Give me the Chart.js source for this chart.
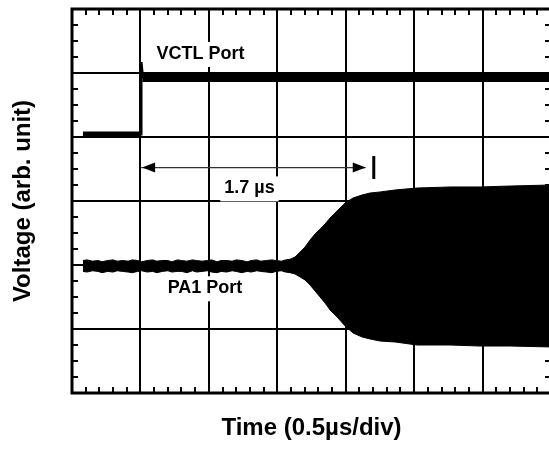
<!DOCTYPE html>
<html>
<head>
<meta charset="utf-8">
<script src="https://cdn.jsdelivr.net/npm/chart.js@4/dist/chart.umd.min.js"></script>
<style>
  html, body { margin: 0; padding: 0; background: #fff; overflow: hidden; }
</style>
</head>
<body>
<canvas id="scope" width="552" height="449"></canvas>
<script>
// time in microseconds (0.5 us / div), voltage in screen divisions (centre = 0)
const pa1Time = [0.08, 0.11, 0.15, 0.19, 0.22, 0.26, 0.30, 0.33, 0.37, 0.41, 0.44, 0.48, 0.51, 0.55,
  0.59, 0.62, 0.66, 0.70, 0.73, 0.77, 0.80, 0.84, 0.88, 0.91, 0.95, 0.99, 1.02, 1.06, 1.09, 1.13,
  1.17, 1.20, 1.24, 1.28, 1.31, 1.35, 1.38, 1.42, 1.46, 1.49, 1.53, 1.56, 1.594, 1.630, 1.667, 1.703,
  1.740, 1.776, 1.813, 1.849, 1.886, 1.937, 1.996, 2.054, 2.120, 2.178, 2.251, 2.361, 2.522, 2.763,
  2.982, 3.202, 3.501];
const pa1Upper = [-0.93, -0.92, -0.94, -0.93, -0.95, -0.93, -0.92, -0.94, -0.93, -0.94, -0.92, -0.93,
  -0.95, -0.93, -0.92, -0.94, -0.93, -0.93, -0.95, -0.92, -0.93, -0.94, -0.92, -0.93, -0.94, -0.93,
  -0.92, -0.95, -0.93, -0.93, -0.94, -0.92, -0.93, -0.95, -0.93, -0.92, -0.94, -0.93, -0.92, -0.93,
  -0.94, -0.92, -0.91, -0.875, -0.797, -0.719, -0.609, -0.516, -0.438, -0.359, -0.266, -0.156,
  -0.031, 0.047, 0.094, 0.125, 0.141, 0.172, 0.203, 0.219, 0.219, 0.234, 0.25];
const pa1Lower = [-1.10, -1.11, -1.09, -1.10, -1.12, -1.10, -1.11, -1.09, -1.10, -1.11, -1.12, -1.10,
  -1.09, -1.11, -1.10, -1.12, -1.10, -1.09, -1.11, -1.10, -1.10, -1.12, -1.09, -1.11, -1.10, -1.09,
  -1.11, -1.12, -1.10, -1.11, -1.09, -1.10, -1.12, -1.10, -1.11, -1.09, -1.10, -1.11, -1.12, -1.10,
  -1.09, -1.11, -1.12, -1.141, -1.188, -1.234, -1.313, -1.406, -1.5, -1.594, -1.703, -1.813, -1.953,
  -2.063, -2.125, -2.156, -2.188, -2.203, -2.25, -2.25, -2.266, -2.266, -2.281];

const vctlLowTime = [0.08, 0.505];
const vctlLowLevel = [1.04, 1.04];
const vctlEdgeTime = [0.505, 0.508, 0.52];
const vctlEdgeLevel = [1.04, 2.17, 1.92];
const vctlHighTime = [0.515, 3.5];
const vctlHighLevel = [1.92, 1.92];

// switching delay marker
const stepTime = 0.505;
const delayUs = 1.7;
const arrowLevel = 0.523;
const markLevels = [0.344, 0.703];

const notes = [
  {text: 'VCTL Port', x: 0.939, y: 2.297},
  {text: '1.7 \u00b5s', x: 1.297, y: 0.197},
  {text: 'PA1 Port', x: 0.972, y: -1.364}
];

const FONT = '"Liberation Sans", Arial, Helvetica, sans-serif';

function pts(xs, ys) {
  return xs.map((x, i) => ({x: x, y: ys[i]}));
}

const scopeDecor = {
  id: 'scopeDecor',
  afterDatasetsDraw(chart) {
    const ctx = chart.ctx;
    const xs = chart.scales.x, ys = chart.scales.y;
    const a = chart.chartArea;
    ctx.save();

    // delay arrow heads and end bar
    const ay = ys.getPixelForValue(arrowLevel);
    const x0 = xs.getPixelForValue(stepTime);
    const markX = xs.getPixelForValue(stepTime + delayUs);
    const x1 = markX - 8;
    ctx.fillStyle = '#000';
    ctx.beginPath();
    ctx.moveTo(x0 + 1, ay); ctx.lineTo(x0 + 14, ay - 5); ctx.lineTo(x0 + 14, ay + 5); ctx.closePath();
    ctx.fill();
    ctx.beginPath();
    ctx.moveTo(x1, ay); ctx.lineTo(x1 - 13, ay - 5); ctx.lineTo(x1 - 13, ay + 5); ctx.closePath();
    ctx.fill();
    ctx.lineWidth = 3;
    ctx.strokeStyle = '#000';
    ctx.beginPath();
    ctx.moveTo(markX, ys.getPixelForValue(markLevels[0]));
    ctx.lineTo(markX, ys.getPixelForValue(markLevels[1]));
    ctx.stroke();

    // trace labels on white boxes
    ctx.font = 'bold 18px ' + FONT;
    ctx.textAlign = 'center';
    ctx.textBaseline = 'middle';
    notes.forEach(n => {
      const px = xs.getPixelForValue(n.x), py = ys.getPixelForValue(n.y);
      const w = ctx.measureText(n.text).width;
      ctx.fillStyle = '#fff';
      ctx.fillRect(px - w / 2 - 4, py - 12, w + 8, 25);
      ctx.fillStyle = '#000';
      ctx.fillText(n.text, px, py);
    });

    // minor ticks pointing inward
    ctx.lineWidth = 2;
    ctx.beginPath();
    for (let t = 0.1; t < 3.5; t += 0.1) {
      if (Math.abs(t / 0.5 - Math.round(t / 0.5)) < 1e-6) continue;
      const px = Math.round(xs.getPixelForValue(t));
      ctx.moveTo(px, a.top); ctx.lineTo(px, a.top + 6);
      ctx.moveTo(px, a.bottom); ctx.lineTo(px, a.bottom - 6);
    }
    for (let v = -2.75; v < 3; v += 0.25) {
      if (Math.abs(v - Math.round(v)) < 1e-6) continue;
      const py = Math.round(ys.getPixelForValue(v));
      ctx.moveTo(a.left, py); ctx.lineTo(a.left + 6, py);
      ctx.moveTo(a.right, py); ctx.lineTo(a.right - 6, py);
    }
    ctx.stroke();

    // frame
    ctx.lineWidth = 3;
    ctx.strokeRect(a.left, a.top, a.right - a.left, a.bottom - a.top);
    ctx.restore();
  }
};

const lineStyle = {borderColor: '#000', pointRadius: 0, tension: 0, fill: false};

new Chart(document.getElementById('scope'), {
  type: 'line',
  data: {
    datasets: [
      Object.assign({label: 'PA1 upper', data: pts(pa1Time, pa1Upper), borderWidth: 1}, lineStyle),
      Object.assign({}, lineStyle, {label: 'PA1 lower', data: pts(pa1Time, pa1Lower), borderWidth: 1,
        fill: '-1', backgroundColor: '#000'}),
      Object.assign({label: 'VCTL low', data: pts(vctlLowTime, vctlLowLevel), borderWidth: 6}, lineStyle),
      Object.assign({label: 'VCTL edge', data: pts(vctlEdgeTime, vctlEdgeLevel), borderWidth: 2}, lineStyle),
      Object.assign({label: 'VCTL high', data: pts(vctlHighTime, vctlHighLevel), borderWidth: 8}, lineStyle),
      Object.assign({label: 'delay', data: pts([stepTime, stepTime + delayUs - 0.06], [arrowLevel, arrowLevel]),
        borderWidth: 1.2}, lineStyle, {borderColor: '#333'})
    ]
  },
  options: {
    responsive: false,
    animation: false,
    layout: {padding: {top: 9, right: 1, left: 0, bottom: 0}},
    plugins: {legend: {display: false}, tooltip: {enabled: false}},
    scales: {
      x: {
        type: 'linear', min: 0, max: 3.5,
        ticks: {display: false, stepSize: 0.5},
        grid: {color: '#000', lineWidth: 2, drawTicks: false},
        border: {display: false},
        title: {display: true, text: 'Time (0.5\u00b5s/div)', color: '#000',
          font: {family: FONT, size: 24, weight: 'bold'}, padding: {top: 0, bottom: 6}},
        afterFit: s => { s.height = 56; }
      },
      y: {
        type: 'linear', min: -3, max: 3,
        ticks: {display: false, stepSize: 1},
        grid: {color: '#000', lineWidth: 2, drawTicks: false},
        border: {display: false},
        title: {display: true, text: 'Voltage (arb. unit)', color: '#000',
          font: {family: FONT, size: 24, weight: 'bold'}, padding: {top: 9, bottom: 0}},
        afterFit: s => { s.width = 72; }
      }
    }
  },
  plugins: [scopeDecor]
});
</script>
</body>
</html>
